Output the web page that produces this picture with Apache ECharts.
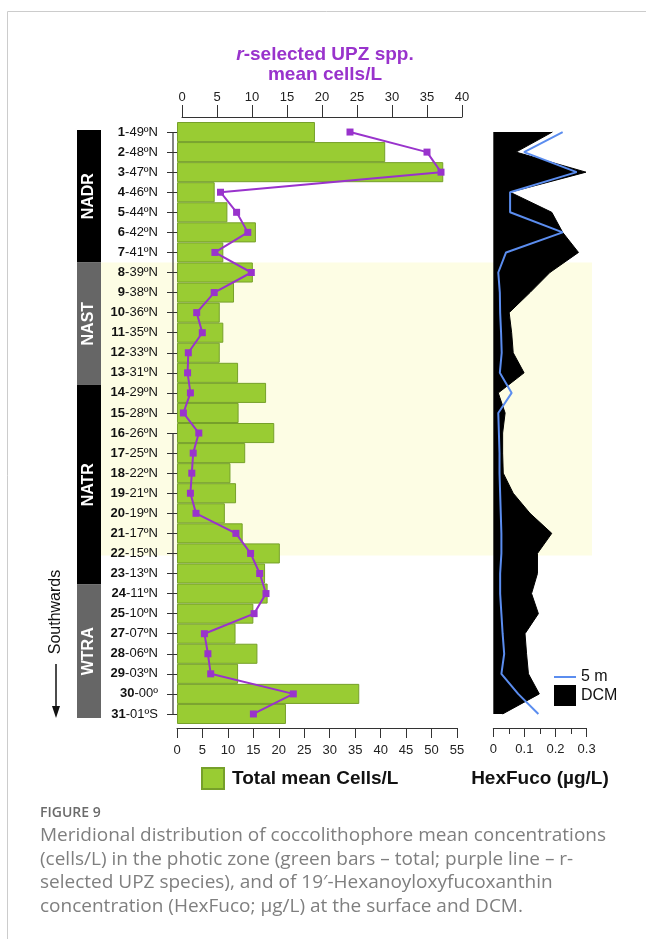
<!DOCTYPE html>
<html>
<head>
<meta charset="utf-8">
<script src="https://cdn.jsdelivr.net/npm/echarts@6/dist/echarts.min.js"></script>
<style>
  html, body { margin: 0; padding: 0; background: #fff; }
  #chart { width: 646px; height: 939px; }
</style>
</head>
<body>
<div id="chart"></div>
<script>
// Stations along the meridional transect (north to south)
const stations = ['1-49ºN', '2-48ºN', '3-47ºN', '4-46ºN', '5-44ºN', '6-42ºN', '7-41ºN',
  '8-39ºN', '9-38ºN', '10-36ºN', '11-35ºN', '12-33ºN', '13-31ºN', '14-29ºN', '15-28ºN',
  '16-26ºN', '17-25ºN', '18-22ºN', '19-21ºN', '20-19ºN', '21-17ºN', '22-15ºN', '23-13ºN',
  '24-11ºN', '25-10ºN', '27-07ºN', '28-06ºN', '29-03ºN', '30-00º', '31-01ºS'];

// Total coccolithophore mean cells/L (bars)
const totalCells = [27.1, 40.9, 52.3, 7.4, 9.9, 15.5, 9.1, 14.9, 11.2, 8.4, 9.1, 8.4, 12.0, 17.5, 12.1,
  19.1, 13.4, 10.5, 11.6, 9.4, 12.9, 20.2, 17.3, 17.8, 15.0, 11.5, 15.8, 12.0, 35.8, 21.4];

// r-selected UPZ species mean cells/L (purple line)
const rSelected = [24.0, 35.0, 37.0, 5.5, 7.8, 9.4, 4.7, 9.9, 4.6, 2.1, 2.9, 0.9, 0.8, 1.2, 0.2,
  2.4, 1.6, 1.4, 1.2, 2.0, 7.7, 9.8, 11.1, 12.0, 10.3, 3.2, 3.7, 4.1, 15.9, 10.2];

// HexFuco (µg/L) at the DCM and at 5 m
const hexDCM = [0.19, 0.073, 0.298, 0.054, 0.188, 0.223, 0.274, 0.182, 0.118, 0.051, 0.059, 0.064, 0.099, 0.016, 0.038,
  0.030, 0.030, 0.032, 0.064, 0.118, 0.188, 0.142, 0.142, 0.123, 0.145, 0.102, 0.107, 0.113, 0.148, 0.030];
const hex5m = [0.223, 0.099, 0.268, 0.054, 0.054, 0.223, 0.041, 0.016, 0.021, 0.022, 0.025, 0.027, 0.021, 0.059, 0.016,
  0.018, 0.020, 0.020, 0.022, 0.024, 0.026, 0.026, 0.022, 0.022, 0.026, 0.030, 0.035, 0.026, 0.080, 0.145];

// Tick values
const cellTicks = { min: 0, max: 55, interval: 5 };
const upzTicks = { min: 0, max: 40, interval: 5 };
const hexTicks = { min: 0, max: 0.3, interval: 0.1 };

// Biogeographic provinces, in station-index units [start, end, name, fill]
const provinces = [
  [-0.1, 6.5, 'NADR', '#000000'],
  [6.5, 12.6, 'NAST', '#666666'],
  [12.6, 22.55, 'NATR', '#000000'],
  [22.55, 29.2, 'WTRA', '#666666']
];
// Shaded subtropical band, in station-index units
const shadedBand = [[6.5, 21.1]];
// Axis line pieces (station index ranges)
const axisPieces = [[0, 14], [15, 29]];

const FONT = '"Liberation Sans", Arial, sans-serif';
const PURPLE = '#9933cc';
const GREEN = '#99cc33';
const BLUE = '#5b8def';

const chart = echarts.init(document.getElementById('chart'));

const TOP = 122, H = 602;

function rowY(api, pos) {
  const y0 = api.coord([0, 0])[1];
  const y1 = api.coord([0, 1])[1];
  return y0 + pos * (y1 - y0);
}

const hiddenCat = (gi) => ({
  type: 'category', gridIndex: gi, data: stations, inverse: true, show: false
});
const hiddenVal = (gi) => ({
  type: 'value', gridIndex: gi, min: 0, max: 1, show: false
});

chart.setOption({
  animation: false,
  textStyle: { fontFamily: FONT },
  title: {
    text: '{i|r}-selected UPZ spp.\nmean cells/L',
    left: 320, top: 40, textAlign: 'center',
    textStyle: {
      fontFamily: FONT, fontSize: 19, fontWeight: 'bold', color: PURPLE, lineHeight: 20,
      rich: { i: { fontStyle: 'italic', fontWeight: 'bold', fontSize: 19, color: PURPLE, fontFamily: FONT } }
    }
  },
  grid: [
    { left: 177, width: 280, top: TOP, height: H },      // bars
    { left: 182, width: 280, top: TOP, height: H },      // r-selected line
    { left: 493.3, width: 93.3, top: TOP, height: H },   // HexFuco
    { left: 101, width: 491, top: TOP, height: H },      // shaded band
    { left: 77, width: 24, top: TOP, height: H }         // provinces
  ],
  xAxis: [
    {
      type: 'value', gridIndex: 0, min: cellTicks.min, max: cellTicks.max, interval: cellTicks.interval,
      position: 'bottom', offset: 4,
      axisLine: { show: true, lineStyle: { color: '#333', width: 1 } },
      axisTick: { show: true, length: 10, lineStyle: { color: '#333' } },
      axisLabel: { fontSize: 13, color: '#222', margin: 16 },
      splitLine: { show: false }
    },
    {
      type: 'value', gridIndex: 1, min: upzTicks.min, max: upzTicks.max, interval: upzTicks.interval,
      position: 'top', offset: 5,
      axisLine: { show: true, lineStyle: { color: '#333', width: 1 } },
      axisTick: { show: true, length: 12, lineStyle: { color: '#333' } },
      axisLabel: { fontSize: 13, color: '#222', margin: 13 },
      splitLine: { show: false }
    },
    {
      type: 'value', gridIndex: 2, min: hexTicks.min, max: hexTicks.max, interval: hexTicks.interval,
      position: 'bottom', offset: 4,
      axisLine: { show: true, lineStyle: { color: '#333', width: 1 } },
      axisTick: { show: true, length: 9, lineStyle: { color: '#333' } },
      minorTick: { show: true, splitNumber: 2, length: 6, lineStyle: { color: '#333' } },
      axisLabel: { fontSize: 13, color: '#222', margin: 15, formatter: v => (v === 0 ? '0' : v.toFixed(1)) },
      splitLine: { show: false },
      name: 'HexFuco (µg/L)', nameLocation: 'middle', nameGap: 41,
      nameTextStyle: { fontFamily: FONT, fontSize: 19, fontWeight: 'bold', color: '#111' }
    },
    hiddenVal(3),
    hiddenVal(4)
  ],
  yAxis: [
    {
      type: 'category', gridIndex: 0, data: stations, inverse: true, offset: 4, z: 5,
      axisLine: { show: false },
      axisTick: { show: true, alignWithLabel: true, length: 10, lineStyle: { color: '#333' } },
      axisLabel: {
        margin: 15, fontSize: 13, color: '#111',
        formatter: s => {
          const k = s.indexOf('-');
          return '{b|' + s.slice(0, k) + '}{n|' + s.slice(k) + '}';
        },
        rich: {
          b: { fontWeight: 'bold', fontSize: 13, color: '#111', fontFamily: FONT },
          n: { fontWeight: 'normal', fontSize: 13, color: '#111', fontFamily: FONT }
        }
      }
    },
    hiddenCat(1), hiddenCat(2), hiddenCat(3), hiddenCat(4)
  ],
  legend: [
    {
      data: [{ name: 'Total mean Cells/L', icon: 'rect' }],
      left: 196, top: 762, itemWidth: 22, itemHeight: 21, itemGap: 0,
      textStyle: { fontFamily: FONT, fontSize: 19, fontWeight: 'bold', color: '#111', padding: [0, 0, 0, 3] },
      selectedMode: false
    },
    {
      data: [
        { name: '5 m', icon: 'path://M0,0 L22,0 L22,2 L0,2 Z', itemStyle: { color: BLUE } },
        { name: 'DCM', icon: 'rect' }
      ],
      orient: 'vertical', left: 549, top: 664, itemWidth: 22, itemHeight: 21, itemGap: 0,
      textStyle: { fontFamily: FONT, fontSize: 16, color: '#111' },
      selectedMode: false
    }
  ],
  series: [
    {
      // shaded subtropical band
      type: 'custom', xAxisIndex: 3, yAxisIndex: 3, z: 0, silent: true, clip: false,
      data: shadedBand,
      renderItem: (params, api) => {
        const x0 = api.coord([0, 0])[0], x1 = api.coord([1, 0])[0];
        const y0 = rowY(api, api.value(0)), y1 = rowY(api, api.value(1));
        return { type: 'rect', shape: { x: x0, y: y0, width: x1 - x0, height: y1 - y0 },
          style: { fill: '#fdfde4' } };
      }
    },
    {
      // province blocks
      type: 'custom', xAxisIndex: 4, yAxisIndex: 4, z: 3, silent: true, clip: false,
      data: provinces,
      renderItem: (params, api) => {
        const p = provinces[params.dataIndex];
        const x0 = api.coord([0, 0])[0], x1 = api.coord([1, 0])[0];
        const y0 = rowY(api, p[0]), y1 = rowY(api, p[1]);
        return {
          type: 'group', children: [
            { type: 'rect', shape: { x: x0, y: y0, width: x1 - x0, height: y1 - y0 }, style: { fill: p[3] } },
            { type: 'text', x: (x0 + x1) / 2, y: (y0 + y1) / 2, rotation: Math.PI / 2,
              style: { text: p[2], fill: '#fff', font: 'bold 16px ' + FONT, align: 'center', verticalAlign: 'middle' } }
          ]
        };
      }
    },
    {
      // station axis drawn in two pieces
      type: 'custom', xAxisIndex: 0, yAxisIndex: 0, z: 4, silent: true, clip: false,
      data: axisPieces,
      renderItem: (params, api) => {
        const x = api.coord([0, 0])[0] - 4;
        const y0 = rowY(api, api.value(0)), y1 = rowY(api, api.value(1));
        return { type: 'line', shape: { x1: x, y1: y0, x2: x, y2: y1 },
          style: { stroke: '#333', lineWidth: 1.2 } };
      }
    },
    {
      name: 'Total mean Cells/L', type: 'bar', xAxisIndex: 0, yAxisIndex: 0, z: 2,
      data: totalCells, barWidth: '100%', barCategoryGap: 0,
      itemStyle: { color: GREEN, borderColor: '#76a02a', borderWidth: 1 }
    },
    {
      name: 'r-selected UPZ spp.', type: 'line', xAxisIndex: 1, yAxisIndex: 1, z: 6,
      data: rSelected, symbol: 'rect', symbolSize: 7,
      lineStyle: { color: PURPLE, width: 2 }, itemStyle: { color: PURPLE }
    },
    {
      name: 'DCM', type: 'line', xAxisIndex: 2, yAxisIndex: 2, z: 3,
      data: hexDCM, symbol: 'none', color: '#000',
      lineStyle: { color: '#000', width: 1 }, areaStyle: { color: '#000', opacity: 1 }
    },
    {
      name: '5 m', type: 'line', xAxisIndex: 2, yAxisIndex: 2, z: 5,
      data: hex5m, symbol: 'none', color: BLUE,
      lineStyle: { color: BLUE, width: 2 }
    }
  ],
  graphic: [
    // frame
    { type: 'line', shape: { x1: 7.5, y1: 11.5, x2: 646, y2: 11.5 }, style: { stroke: '#cccccc', lineWidth: 1 } },
    { type: 'line', shape: { x1: 7.5, y1: 11.5, x2: 7.5, y2: 939 }, style: { stroke: '#cccccc', lineWidth: 1 } },
    // direction note
    { type: 'text', x: 56, y: 612, rotation: Math.PI / 2,
      style: { text: 'Southwards', font: '16px ' + FONT, fill: '#111', align: 'center', verticalAlign: 'middle' } },
    { type: 'line', shape: { x1: 56, y1: 664, x2: 56, y2: 712 }, style: { stroke: '#111', lineWidth: 1.5 } },
    { type: 'polygon', shape: { points: [[52, 706], [60, 706], [56, 718]] }, style: { fill: '#111' } },
    // caption
    { type: 'text', x: 40, y: 813,
      style: { text: 'FIGURE 9', font: '600 14px "Open Sans", sans-serif', fill: '#6b6b6b', verticalAlign: 'middle' } },
    { type: 'text', x: 40, y: 824,
      style: {
        text: 'Meridional distribution of coccolithophore mean concentrations\n(cells/L) in the photic zone (green bars – total; purple line – r-\nselected UPZ species), and of 19′-Hexanoyloxyfucoxanthin\nconcentration (HexFuco; µg/L) at the surface and DCM.',
        font: '19px "Open Sans", sans-serif', fill: '#7f7f7f', lineHeight: 23.5, verticalAlign: 'top'
      } }
  ]
});
</script>
</body>
</html>
